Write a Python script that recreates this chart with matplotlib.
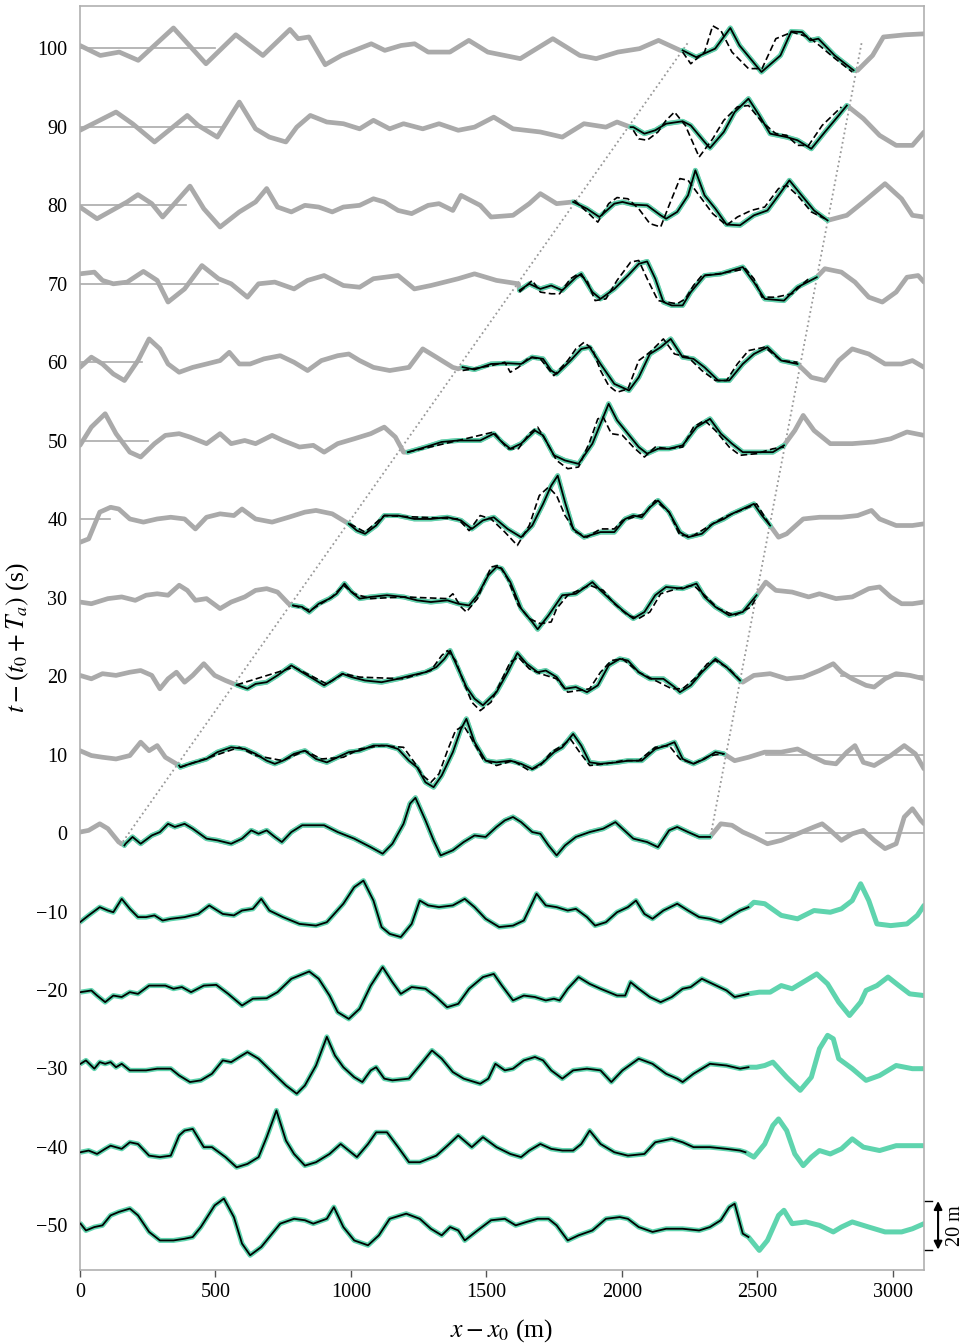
import numpy as np
import matplotlib
matplotlib.use("Agg")
import matplotlib.pyplot as plt

plt.rcParams['font.family'] = ['Liberation Serif', 'DejaVu Serif']
plt.rcParams['mathtext.fontset'] = 'stix'

SCALE = 0.31  # s of vertical offset per m of surface elevation
GRAY = '#aaaaaa'
TEAL = '#5fd4ae'

offsets = [100, 90, 80, 70, 60, 50, 40, 30, 20, 10, 0, -10, -20, -30, -40, -50]

# measured surface elevation (x in m, eta in m) for each time offset
m100 = [(0,1.2),(75,-2.9),(145,-1.5),(215,-4.9),(345,8.4),(465,-6.3),(575,5.6),(675,-2.9),(775,7.8),(805,4.0),(845,4.7),(905,-6.7),(965,-2.9),(1075,1.9),(1125,-0.8),(1185,1.2),(1235,1.9),(1285,-1.5),(1365,-1.5),(1435,3.3),(1505,-1.5),(1625,-4.2),(1745,4.0),(1845,-2.9),(1905,-4.2),(1985,-1.5),(2065,-0.1),(2135,3.3),(2215,-0.8),
        (2224,-0.8),(2274,-3.6),(2344,-0.1),(2400,8.4),(2434,1.2),(2515,-9.7),(2585,-2.9),(2625,7.0),(2665,6.7),(2695,3.3),(2725,4.0),(2785,-2.9),(2855,-9.0),
        (2870,-9.0),(2925,-2.9),(2965,4.7),(3045,5.6),(3115,6.0)]
m90 = [(0,-1.4),(133,6.1),(194,1.3),(275,-6.2),(335,-0.8),(396,4.7),(436,0.6),(507,-4.2),(588,10.2),(648,-0.8),(699,-4.2),(760,-6.2),(800,-0.1),(850,4.7),(911,2.0),(972,1.3),(1032,-0.8),(1083,2.7),(1143,-0.8),(1194,1.3),(1265,-0.8),(1325,1.3),(1396,-1.4),(1456,-0.1),(1527,4.0),(1598,-0.8),(1699,-2.1),(1780,-4.2),(1860,1.3),(1941,-0.1),(1982,2.0),(2032,-0.1),
       (2042,-0.1),(2083,-2.8),(2123,-1.4),(2163,1.3),(2224,2.3),(2254,0.6),(2305,-6.2),(2325,-8.7),(2376,-2.1),(2416,6.1),(2467,11.6),(2507,4.7),(2547,-2.8),(2608,-4.2),(2648,-5.5),(2699,-9.0),(2749,-2.1),(2800,4.7),(2830,8.8),
       (2891,3.4),(2951,-3.5),(3012,-7.6),(3072,-7.6),(3115,-2.1)]
m80 = [(0,-0.7),(63,-5.5),(174,1.4),(214,4.4),(265,0.7),(305,-4.8),(406,7.9),(457,-1.4),(517,-8.9),(588,-2.7),(648,1.4),(689,6.9),(729,-0.7),(780,-2.7),(830,0),(881,-0.7),(931,-2.7),(972,-0.7),(1032,0),(1083,2.7),(1123,1.4),(1174,-2.1),(1224,-3.4),(1285,0),(1325,0.7),(1376,-2.1),(1406,4.1),(1477,0),(1517,-4.8),(1598,-4.1),(1658,0.7),(1699,4.8),(1759,0.7),(1820,1.4),
       (1871,-1.4),(1917,-4.8),(1972,0.7),(2002,1.4),(2042,0.3),(2093,0),(2143,-4.1),(2163,-5.5),(2204,-2.7),(2244,4.1),(2271,14.4),(2305,4.1),(2345,-1.4),(2386,-7.9),(2436,-8.2),(2487,-4.1),(2537,-2.1),(2578,4.1),(2618,10.3),(2658,4.8),(2709,-2.1),(2759,-6.2),
       (2830,-4.1),(2891,1.4),(2971,8.9),(3032,2.7),(3072,-4.1),(3115,-4.8)]
m70 = [(0,4.1),(53,4.8),(83,1.4),(123,0),(174,0.7),(234,5.1),(285,1.4),(325,-7.5),(386,-2.1),(450,7.5),(511,2.1),(558,0),(618,-5.5),(659,0),(719,0.7),(790,-2.1),(840,1.4),(901,3.4),(972,-0.7),(1032,-1.4),(1083,2.1),(1174,3.4),(1234,-2.1),(1295,-0.7),(1396,2.1),(1456,4.1),(1537,1.4),(1618,0),
       (1622,-2.7),(1658,0),(1699,-2.1),(1739,-0.7),(1780,-2.7),(1830,2.7),(1850,4.1),(1891,-3.4),(1921,-6.2),(1972,-2.1),(2022,3.4),(2062,8.2),(2093,9.2),(2123,2.1),(2153,-7.5),(2184,-8.9),(2224,-8.9),(2254,-3.4),(2305,3.4),(2365,4.1),(2446,6.9),(2487,0.7),(2527,-6.2),(2598,-6.9),(2648,-1.4),(2719,2.7),
       (2749,6.2),(2810,4.8),(2860,0.7),(2911,-5.5),(2961,-7.5),(3012,-3.4),(3052,2.7),(3093,3.4),(3115,0.7)]
m60 = [(0,-2.1),(42,2.1),(83,-0.7),(123,-4.8),(164,-7.5),(214,0.7),(255,9.6),(295,5.5),(325,-0.7),(366,-4.1),(416,-2.1),(467,-0.7),(517,0.7),(551,4.1),(588,-0.7),(628,-0.7),(679,1.4),(739,2.7),(790,0),(840,-3.4),(891,0.7),(951,2.7),(992,3.4),(1032,0.7),(1083,-2.1),(1143,-3.4),(1214,-2.1),(1265,5.5),(1315,2.1),(1376,-2.1),(1396,-2.7),
       (1412,-2.0),(1456,-3.0),(1517,-0.7),(1578,-0.4),(1628,-0.7),(1669,2.1),(1709,1.4),(1739,-3.4),(1759,-4.8),(1810,0.7),(1850,5.5),(1881,6.2),(1921,-0.7),(1972,-8.9),(2026,-11.6),(2062,-6.2),(2103,3.4),(2143,6.2),(2180,9.6),(2224,2.1),(2264,1.4),(2305,-2.1),(2355,-7.5),(2396,-7.5),(2446,-0.7),(2487,3.4),(2537,6.2),(2588,0.7),(2648,-0.7),
       (2699,-6.2),(2749,-7.5),(2800,0.7),(2850,5.5),(2911,3.4),(2971,-0.7),(3032,-0.7),(3072,0.7),(3115,-2.1)]
m50 = [(0,-1.9),(42,5.6),(93,11.1),(133,2.9),(184,-4.7),(224,-6.7),(275,-1.2),(315,2.2),(366,2.9),(406,1.5),(467,-1.2),(517,2.9),(558,-1.2),(608,0.1),(648,-1.2),(709,2.2),(749,0.1),(810,-2.6),(861,-1.9),(901,-4.7),(951,-1.2),(1012,0.8),(1073,2.9),(1123,5.6),(1164,1.5),(1194,-4.7),
       (1210,-4.7),(1275,-2.6),(1335,-0.5),(1396,0.1),(1477,0.1),(1527,2.9),(1557,-0.5),(1588,-3.3),(1628,-1.2),(1679,4.2),(1709,2.2),(1749,-6.0),(1790,-8.1),(1840,-9.5),(1891,-1.2),(1921,7.0),(1951,15.2),(1982,8.4),(2022,2.9),(2062,-2.6),(2093,-5.3),(2133,-3.3),(2174,-3.3),(2224,-1.9),(2275,5.6),(2325,9.0),(2365,2.9),(2406,-1.2),(2446,-4.7),(2497,-4.7),(2557,-4.7),(2598,-1.9),
       (2638,4.2),(2669,10.4),(2709,4.2),(2769,-1.2),(2850,-1.2),(2931,-0.5),(2992,0.8),(3052,3.6),(3115,2.2)]
m40 = [(0,-9.5),(32,-8.1),(73,2.9),(113,4.9),(143,4.2),(184,0.1),(234,-1.2),(285,0.1),(335,0.8),(386,0.1),(426,-4.0),(467,0.8),(517,2.2),(568,1.5),(598,4.2),(648,0.1),(709,-1.2),(770,0.8),(830,2.9),(871,3.6),(931,2.2),(992,-1.9),
       (1022,-4.7),(1052,-6.0),(1093,-2.6),(1123,1.5),(1174,1.5),(1234,0.1),(1295,0.1),(1356,0.8),(1406,-0.5),(1446,-4.0),(1487,-0.5),(1527,0.8),(1578,-4.0),(1628,-7.4),(1669,-2.6),(1709,6.3),(1739,13.8),(1763,17.9),(1790,7.0),(1820,-4.0),(1860,-7.4),(1921,-5.3),(1972,-5.3),(2012,0.1),(2042,1.5),(2073,0.8),(2103,4.9),(2133,7.7),(2174,2.9),(2214,-5.3),(2244,-7.4),(2295,-6.0),(2335,-1.9),(2376,0.1),(2406,2.2),(2446,4.2),(2487,6.3),(2517,1.5),(2547,-2.6),
       (2578,-7.4),(2608,-6.0),(2669,0.1),(2729,0.8),(2810,0.8),(2870,1.5),(2921,3.6),(2951,0.1),(3012,-2.6),(3072,-2.6),(3115,-1.9)]
m30 = [(0,-1.8),(42,-2.5),(103,-0.4),(154,0.3),(204,-1.1),(244,1.0),(285,1.6),(325,1.0),(366,5.1),(396,3.0),(426,-1.1),(467,-0.4),(517,-4.5),(558,-1.8),(608,0.3),(648,3.0),(689,3.7),(729,2.3),(770,-2.5),
       (786,-3.2),(820,-3.8),(846,-5.9),(881,-2.5),(921,-0.4),(947,1.6),(976,5.8),(1002,2.3),(1032,-0.4),(1073,0.3),(1133,1.0),(1194,0.3),(1244,-1.1),(1295,-1.8),(1356,-1.1),(1396,-2.5),(1436,-3.2),(1467,1.0),(1507,9.2),(1537,12.6),(1557,11.9),(1588,6.4),(1628,-4.5),(1669,-10.0),(1689,-13.0),(1729,-7.3),(1780,1.0),(1830,1.6),(1891,6.4),(1921,3.0),(1961,-1.1),(2002,-5.2),(2042,-8.6),(2083,-5.9),(2123,1.0),(2163,4.4),(2224,3.7),(2275,5.8),(2305,0.3),(2345,-3.8),(2396,-7.3),(2446,-5.9),(2497,1.0),
       (2531,6.4),(2568,3.0),(2628,2.3),(2689,0.3),(2729,1.6),(2790,-0.4),(2850,0.3),(2911,3.7),(2951,4.4),(2992,0.3),(3032,-2.5),(3072,-2.5),(3115,-1.8)]
m20 = [(0,0.3),(42,-1.1),(83,1.0),(133,0.3),(184,1.6),(224,2.3),(265,0.3),(295,-5.2),(325,-1.1),(356,1.6),(386,-2.5),(416,0.3),(457,5.1),(497,0.3),(537,-1.8),(568,-3.2),
       (578,-3.6),(618,-5.2),(648,-3.2),(689,-2.5),(729,0.3),(780,4.4),(820,1.6),(861,-1.1),(901,-3.8),(931,-1.8),(968,1.0),(1002,-0.4),(1052,-1.8),(1113,-2.5),(1174,-1.1),(1224,0.3),(1275,1.6),(1315,3.7),(1345,7.1),(1366,10.5),(1396,3.0),(1426,-4.5),(1456,-9.3),(1487,-12.0),(1537,-6.6),(1578,1.6),(1614,9.5),(1648,5.1),(1689,1.6),(1719,2.3),(1759,-0.4),(1790,-5.2),(1830,-4.5),(1871,-6.6),(1911,-3.8),(1951,4.4),(1992,7.1),(2022,6.4),(2062,1.6),(2103,-1.1),(2153,-1.1),(2194,-4.5),(2214,-6.6),(2254,-3.8),(2295,1.6),(2345,7.1),(2386,3.7),(2436,-1.8),
       (2446,-2.5),(2487,0.3),(2547,1.0),(2608,-1.1),(2669,-0.4),(2729,2.3),(2780,5.1),(2810,1.6),(2850,-1.1),(2901,-3.8),(2931,-4.5),(2971,-1.1),(3012,1.0),(3063,0.3),(3115,-1.1)]
m10 = [(0,1.6),(42,-0.4),(83,-1.1),(133,-1.8),(184,-0.4),(224,5.1),(255,1.6),(285,3.7),(315,-1.1),(366,-4.5),
       (370,-5.2),(406,-3.8),(467,-1.8),(507,1.0),(558,3.0),(608,2.3),(648,0.3),(689,-2.5),(719,-3.8),(749,-2.5),(790,0.3),(830,1.6),(871,-1.8),(911,-3.2),(951,-1.1),(992,1.0),(1032,1.6),(1083,3.7),(1133,3.7),(1174,2.3),(1214,-2.5),(1244,-5.2),(1275,-11.4),(1305,-13.4),(1335,-8.6),(1376,1.0),(1406,10.5),(1426,14.7),(1456,5.1),(1497,-2.5),(1537,-3.2),(1588,-2.5),(1628,-3.8),(1669,-5.9),(1709,-3.2),(1749,1.0),(1780,3.0),(1820,8.5),(1850,3.7),(1881,-3.2),(1921,-3.8),(1982,-3.2),(2022,-2.5),(2073,-2.5),(2123,2.3),(2163,3.7),(2194,5.1),(2224,-1.8),(2264,-3.8),(2305,-1.8),(2345,1.0),(2376,0.3),
       (2416,-2.5),(2467,-1.1),(2527,1.0),(2588,1.0),(2648,2.3),(2709,-1.1),(2749,-3.2),(2790,-3.8),(2830,1.0),(2860,3.7),(2891,-3.2),(2931,-4.5),(2992,-0.4),(3042,3.7),(3083,0.3),(3115,-5.9)]
m0 = [(0,0.4),(32,1.1),(73,3.8),(103,1.8),(143,-3.7),(164,-5.1),
      (168,-4.4),(194,-1.6),(224,-4.4),(265,-1.0),(295,0.4),(325,3.8),(350,2.5),(386,3.8),(416,1.8),(467,-2.3),(507,-3.0),(558,-4.4),(598,-2.3),(632,1.1),(659,-0.3),(689,1.1),(719,-1.6),(745,-3.7),(780,0.4),(820,3.2),(850,3.2),(901,3.2),(951,0.4),(1012,-2.3),(1073,-5.8),(1117,-8.5),(1153,-4.4),(1194,3.8),(1218,12.1),(1238,14.5),(1275,5.2),(1305,-3.0),(1331,-9.2),(1376,-7.1),(1416,-3.7),(1456,-1.0),(1497,-1.6),(1537,2.5),(1568,5.2),(1598,6.6),(1628,4.5),(1669,0.4),(1699,-0.3),(1729,-5.1),(1759,-9.2),(1790,-5.1),(1830,-1.6),(1881,0.4),(1931,1.8),(1976,4.5),(2002,1.8),(2042,-2.3),(2093,-3.7),(2133,-5.8),(2174,1.1),(2204,2.5),(2244,0.4),(2285,-1.6),(2325,-1.6),
      (2365,3.8),(2406,3.2),(2446,0.4),(2487,-1.6),(2537,-4.4),(2588,-3.0),(2648,-0.3),(2709,2.5),(2739,3.8),(2769,1.1),(2810,-3.0),(2850,-0.3),(2891,1.1),(2931,-3.0),(2971,-6.4),(3012,-4.4),(3042,6.6),(3072,10.0),(3103,5.2),(3115,3.8)]
m_10 = [(0,-4.4),(32,-1.6),(73,1.8),(103,0.4),(123,-0.3),(154,5.2),(184,1.1),(214,-2.3),(244,-2.3),(275,-1.6),(305,-3.7),(335,-3.0),(386,-2.3),(436,-1.0),(477,2.5),(527,-1.0),(568,-1.6),(598,0.4),(638,1.1),(669,5.2),(699,0.4),(749,-2.3),(810,-5.1),(871,-5.8),(911,-4.4),(972,3.2),(1012,10.0),(1046,12.7),(1083,4.5),(1113,-6.4),(1143,-9.2),(1184,-10.5),(1224,-5.1),(1254,4.5),(1285,2.5),(1325,1.8),(1376,2.5),(1420,5.2),(1456,1.8),(1497,-3.0),(1547,-6.4),(1598,-5.8),(1638,-3.7),(1685,7.3),(1719,2.5),(1759,1.8),(1800,0.4),(1830,1.1),(1871,-2.3),(1901,-5.8),(1941,-4.4),(1982,-0.3),(2022,1.8),(2052,4.5),(2083,-1.0),(2113,-3.0),(2153,0.4),(2204,3.2),(2244,0.4),(2285,-2.3),(2325,-3.0),(2365,-4.4),(2406,-1.6),(2436,0.4),(2467,1.8),
        (2487,3.8),(2527,3.2),(2588,-1.6),(2648,-3.0),(2709,0.4),(2769,-0.3),(2810,1.1),(2850,4.5),(2881,11.4),(2911,4.5),(2941,-5.1),(2992,-5.8),(3052,-5.1),(3090,-1.6),(3115,2.5)]
m_20 = [(2,-0.9),(42,-0.2),(63,-2.3),(93,-5.0),(123,-2.3),(154,-2.9),(184,-0.9),(214,-1.6),(255,1.8),(285,1.8),(315,1.8),(345,0.5),(376,1.2),(410,-0.9),(457,1.8),(503,2.1),(547,-1.6),(598,-6.4),(638,-3.6),(689,-3.4),(729,-0.9),(780,4.6),(846,7.6),(881,4.6),(921,-2.3),(951,-9.1),(992,-11.9),(1032,-7.7),(1073,1.8),(1117,9.4),(1153,3.2),(1184,-1.6),(1224,1.2),(1275,0.5),(1315,-2.9),(1355,-7.1),(1396,-5.7),(1436,0.5),(1487,5.3),(1527,6.6),(1557,1.8),(1598,-4.3),(1638,-2.3),(1679,-2.9),(1719,-4.3),(1749,-3.6),(1770,-4.3),(1800,0.5),(1840,5.3),(1881,2.5),(1921,0.5),(1982,-2.3),(2012,-2.3),(2032,3.2),(2062,0.5),(2103,-2.9),(2143,-5.0),(2184,-2.9),(2224,0.5),(2254,1.2),(2295,4.6),(2335,2.5),(2386,-0.2),(2416,-2.9),(2467,-1.6),
        (2507,-0.9),(2547,-0.9),(2588,1.8),(2628,0.5),(2679,3.9),(2719,6.6),(2759,2.5),(2800,-5.0),(2840,-10.5),(2881,-5.0),(2901,-0.2),(2941,1.8),(2982,5.3),(3022,1.8),(3062,-1.6),(3115,-2.3)]
m_30 = [(2,1.9),(22,3.3),(53,-0.1),(73,2.6),(93,1.9),(113,2.6),(133,0.5),(154,1.9),(184,-0.8),(244,-0.8),(285,-0.1),(335,-0.1),(366,-2.9),(406,-5.6),(446,-4.9),(487,-2.2),(527,3.3),(558,2.6),(588,4.7),(618,6.7),(659,4.0),(709,-1.5),(760,-7.0),(800,-10.4),(830,-7.0),(871,1.2),(911,13.0),(941,5.3),(972,0.5),(1012,-3.6),(1042,-5.6),(1073,-0.8),(1093,0.5),(1123,-4.2),(1153,-4.9),(1214,-4.2),(1254,1.2),(1299,7.4),(1335,4.0),(1376,-1.5),(1416,-4.2),(1477,-6.3),(1507,-4.2),(1533,1.9),(1568,-0.8),(1598,-0.1),(1638,3.3),(1679,4.7),(1709,3.3),(1739,-0.8),(1780,-4.2),(1820,-0.8),(1871,-0.1),(1921,-0.8),(1961,-5.6),(2002,-0.8),(2062,4.0),(2113,1.9),(2163,-2.2),(2204,-4.2),(2224,-5.6),(2264,-2.2),(2325,1.9),(2386,1.2),(2436,-0.1),(2467,0.5),
        (2497,0.5),(2527,1.2),(2557,2.6),(2608,-3.6),(2658,-9.0),(2699,-3.6),(2729,8.1),(2759,13.6),(2780,12.2),(2800,4.0),(2850,-0.1),(2901,-4.9),(2951,-2.9),(3012,1.2),(3072,-0.1),(3115,-0.1)]
m_40 = [(2,-2.2),(32,-1.5),(63,-2.9),(93,-0.8),(113,0.5),(154,-0.8),(184,1.9),(214,1.2),(255,-3.6),(295,-4.2),(335,-3.6),(366,4.7),(386,6.7),(416,7.4),(457,-0.1),(487,-0.1),(537,-4.2),(578,-8.4),(618,-7.0),(659,-4.2),(689,4.0),(725,15.0),(760,2.6),(790,-2.9),(830,-7.7),(871,-6.3),(921,-2.9),(962,1.2),(992,-1.5),(1022,-4.2),(1063,1.2),(1093,6.0),(1133,6.0),(1174,-0.1),(1214,-6.3),(1254,-6.3),(1315,-3.6),(1356,0.5),(1396,4.7),(1446,-0.1),(1487,4.0),(1537,-0.1),(1588,-2.9),(1628,-4.2),(1658,-1.5),(1699,1.2),(1739,-0.8),(1780,-1.5),(1820,-1.5),(1850,1.2),(1881,6.7),(1921,1.2),(1972,-2.2),(2022,-3.6),(2083,-2.9),(2123,1.9),(2184,3.3),(2224,1.9),(2264,-0.1),(2325,-0.1),(2386,-0.8),(2436,-1.5),(2456,-2.2),
        (2487,-4.2),(2527,1.2),(2557,8.8),(2578,11.5),(2608,6.7),(2638,-2.9),(2669,-7.7),(2699,-4.2),(2729,-1.5),(2769,-2.9),(2810,-0.8),(2850,3.3),(2891,-0.1),(2951,-1.5),(3012,0.5),(3072,0.5),(3115,0.5)]
m_50 = [(2,0.7),(22,-2.1),(53,-0.7),(83,0),(113,4.1),(143,5.5),(184,6.9),(214,4.1),(255,-2.7),(295,-6.2),(345,-6.2),(386,-5.5),(416,-4.8),(446,-0.7),(497,8.2),(531,11.0),(568,3.4),(598,-7.5),(628,-12.3),(669,-8.9),(709,-3.4),(739,0.7),(790,2.7),(830,2.1),(861,0.7),(911,2.7),(937,7.5),(972,-0.7),(1012,-6.2),(1063,-8.2),(1103,-4.1),(1143,2.7),(1204,4.8),(1254,2.7),(1295,-1.4),(1335,-4.1),(1366,-0.7),(1396,-2.1),(1420,-6.2),(1467,-2.1),(1517,2.1),(1568,2.7),(1608,0),(1648,1.4),(1689,2.7),(1729,2.7),(1759,0),(1800,-6.2),(1840,-4.1),(1891,-2.1),(1941,2.7),(1992,3.4),(2022,2.7),(2062,-0.7),(2113,-2.7),(2163,-1.4),(2224,-1.4),(2285,-2.1),(2325,-0.7),(2365,2.1),(2396,7.5),(2416,8.9),(2446,-3.4),(2467,-4.8),
        (2507,-10.3),(2537,-6.2),(2578,4.1),(2598,6.2),(2628,0.7),(2679,1.4),(2729,0),(2780,-2.7),(2810,-0.7),(2850,1.4),(2911,-0.7),(2971,-2.7),(3032,-2.7),(3072,-1.4),(3115,0.7)]

# dashed prediction (only distinct from the solid one for the upper traces)
l100 = [(2224,-1.5),(2254,-6.3),(2305,-1.5),(2335,9.3),(2365,7.4),(2406,-1.5),(2467,-8.3),(2517,-8.3),(2568,4.0),(2628,6.7),(2689,4.7),(2729,1.2),(2780,-3.6),(2850,-9.7)]
l90 = [(2042,-1.4),(2062,-4.9),(2093,-5.5),(2133,-2.1),(2163,2.7),(2194,6.1),(2234,0.6),(2285,-12.4),(2335,-4.9),(2376,2.7),(2426,8.2),(2467,8.8),(2517,2.0),(2568,-2.8),(2608,-3.5),(2648,-7.6),(2689,-7.6),(2739,0.6),(2810,8.2)]
l80 = [(1824,2.1),(1871,-2.7),(1911,-6.9),(1951,0.7),(1982,3.2),(2022,2.7),(2062,-1.4),(2103,-7.5),(2143,-8.9),(2174,0),(2214,11.0),(2244,10.3),(2285,4.1),(2335,-3.4),(2386,-8.2),(2426,-4.8),(2477,-2.1),(2527,-0.7),(2578,6.9),(2608,8.2),(2648,4.1),(2699,-2.7),(2749,-5.5)]
l70 = [(1622,-3.4),(1669,1.4),(1699,-3.4),(1739,-4.1),(1770,-4.1),(1810,2.1),(1840,4.1),(1871,1.4),(1901,-6.9),(1941,-6.2),(1982,1.4),(2032,8.9),(2062,9.6),(2093,2.1),(2133,-6.9),(2163,-7.5),(2204,-8.2),(2234,-6.2),(2264,-0.7),(2295,3.4),(2355,4.1),(2426,5.5),(2456,6.2),(2487,2.1),(2517,-5.5),(2567,-5.5),(2628,-4.1),(2689,2.1)]
l60 = [(1412,-3.4),(1517,-1.4),(1568,0),(1588,-4.1),(1618,-2.1),(1658,2.1),(1699,1.4),(1749,-5.5),(1800,0.7),(1830,5.5),(1860,8.2),(1891,5.5),(1921,-3.4),(1951,-9.6),(1982,-12.3),(2022,-11.0),(2062,0.7),(2103,4.1),(2153,9.6),(2194,3.4),(2244,2.1),(2295,-3.4),(2345,-7.5),(2386,-7.5),(2426,-0.7),(2467,4.8),(2527,6.2),(2588,0.7),(2648,0)]
l50 = [(1210,-4.7),(1396,0.1),(1527,3.6),(1578,-3.3),(1618,-3.3),(1658,2.9),(1689,5.6),(1719,0.1),(1759,-8.1),(1800,-11.5),(1840,-10.8),(1881,-0.5),(1911,9.0),(1931,9.7),(1961,2.9),(2002,2.2),(2042,-2.6),(2083,-6.7),(2123,-2.6),(2174,-3.3),(2224,-2.6),(2264,5.6),(2305,8.4),(2345,4.2),(2396,-2.6),(2436,-6.0),(2497,-5.3),(2557,-3.3),(2598,-2.6)]
l40 = [(996,-1.9),(1052,-5.3),(1123,1.5),(1396,0.1),(1436,-4.7),(1477,1.5),(1517,0.1),(1568,-5.3),(1614,-10.8),(1658,-2.6),(1695,9.7),(1729,13.2),(1759,9.7),(1790,1.5),(1830,-5.3),(1871,-7.4),(1921,-4.0),(1972,-4.0),(2002,-0.5),(2042,0.8),(2083,2.2),(2123,7.7),(2174,2.9),(2214,-6.7),(2264,-6.7),(2325,-2.6),(2376,0.8),(2467,4.9),(2497,6.3),(2547,-2.6)]
l30 = [(786,-3.2),(850,-5.2),(931,0.3),(972,5.1),(1012,1.6),(1073,-0.4),(1194,0.3),(1356,-0.4),(1376,1.6),(1406,-3.8),(1426,-5.9),(1467,-0.4),(1517,12.6),(1547,13.3),(1578,7.8),(1618,-3.2),(1658,-8.6),(1699,-10.7),(1739,-10.0),(1759,-4.5),(1800,1.0),(1881,5.1),(1931,3.0),(1972,-2.5),(2022,-7.3),(2062,-8.6),(2103,-5.9),(2143,1.6),(2204,3.7),(2264,5.1),(2305,1.0),(2355,-4.5),(2416,-7.3),(2477,-3.8),(2497,0.3)]
l20 = [(578,-3.6),(790,3.7),(911,-3.2),(972,1.0),(1032,-0.4),(1194,-1.1),(1295,2.3),(1335,8.5),(1356,10.5),(1386,6.4),(1416,-2.5),(1446,-10.7),(1477,-14.2),(1517,-10.7),(1558,-1.1),(1588,5.8),(1618,7.8),(1658,3.0),(1699,1.0),(1759,-1.1),(1800,-6.6),(1840,-5.9),(1881,-5.2),(1921,1.6),(1961,6.4),(2002,7.1),(2062,1.6),(2123,-1.8),(2184,-5.2),(2224,-5.2),(2275,-0.4),(2315,5.1),(2345,6.4),(2396,3.0),(2436,-1.8)]
l10 = [(370,-5.2),(588,3.0),(648,-0.4),(749,-2.5),(830,1.6),(891,-1.8),(972,-1.1),(1032,2.3),(1113,3.7),(1194,3.0),(1234,-3.2),(1265,-8.6),(1295,-11.4),(1325,-7.9),(1356,1.6),(1386,9.9),(1416,11.9),(1446,6.4),(1487,-1.8),(1537,-4.5),(1598,-2.5),(1658,-6.6),(1699,-4.5),(1739,1.0),(1780,3.7),(1810,6.4),(1840,1.6),(1881,-4.5),(1941,-3.8),(2002,-2.5),(2062,-2.5),(2123,3.0),(2174,3.7),(2214,-1.8),(2264,-3.8),(2325,-0.4),(2376,0.3)]

measured = [m100, m90, m80, m70, m60, m50, m40, m30, m20, m10, m0, m_10, m_20, m_30, m_40, m_50]
dashed = [l100, l90, l80, l70, l60, l50, l40, l30, l20, l10, None, None, None, None, None, None]

# prediction window per trace (m)
win_lo = [2220, 2030, 1820, 1620, 1405, 1200, 992, 775, 570, 366, 160, 0, 0, 0, 0, 0]
win_hi = [2860, 2835, 2765, 2720, 2655, 2605, 2550, 2500, 2440, 2380, 2330, 3115, 3115, 3115, 3115, 3115]
pred_hi = [2860, 2835, 2765, 2720, 2655, 2605, 2550, 2500, 2440, 2380, 2330, 2470, 2470, 2470, 2470, 2470]

# flat segments of the thin reference line (eta = 0)
thin_spans = {100: (0, 500), 90: (0, 520), 80: (0, 390), 70: (0, 510), 60: (0, 230),
              50: (0, 250), 40: (0, 110), 20: (2810, 3115), 10: (2530, 3115), 0: (2530, 3115)}

# dotted edges of the prediction region (x in m, t in s)
edge_left = ([148, 2245], [-1.6, 100.8])
edge_right = ([2328, 2885], [-0.2, 100.8])

fig = plt.figure(figsize=(9.73, 13.44), dpi=100)
ax = fig.add_axes([0.0822, 0.055, 0.8675, 0.9405])

for i, t in enumerate(offsets):
    x, e = np.array(measured[i], dtype=float).T
    y = t + SCALE * e
    if t >= 0:
        ax.plot(x, y, color=GRAY, lw=3.4, solid_capstyle='round', solid_joinstyle='round', zorder=1)
    if t in thin_spans:
        a, b = thin_spans[t]
        ax.plot([a, b], [t, t], color=GRAY, lw=1.2, zorder=1)
    inside = (x >= win_lo[i]) & (x <= win_hi[i])
    ax.plot(x[inside], y[inside], color=TEAL, lw=3.6, solid_capstyle='round', solid_joinstyle='round', zorder=2)
    if dashed[i] is not None:
        lx, le = np.array(dashed[i], dtype=float).T
        ax.plot(lx, t + SCALE * le, color='k', lw=1.2, ls=(0, (4, 2)), zorder=3)
    sol = (x >= win_lo[i]) & (x <= pred_hi[i])
    ax.plot(x[sol], y[sol], color='k', lw=1.3, solid_joinstyle='round', zorder=4)

ax.plot(*edge_left, color='#999999', lw=1.3, ls=':', zorder=0)
ax.plot(*edge_right, color='#999999', lw=1.3, ls=':', zorder=0)

ax.set_xlim(0, 3115)
ax.set_ylim(-55.7, 105.4)
ax.set_xticks(np.arange(0, 3001, 500))
ax.set_yticks(offsets)
ax.set_yticklabels([str(v).replace('-', '\u2212') for v in offsets])
ax.tick_params(axis='y', length=0, pad=9, labelsize=14.5)
ax.tick_params(axis='x', length=5, width=1, color='#555555', pad=4, labelsize=14.5)
for s in ax.spines.values():
    s.set_color('#b0b0b0')
    s.set_linewidth(1.2)

ax.set_xlabel('$x - x_0$ (m)', fontsize=18.5)
ax.set_ylabel('$t - (t_0 + T_a)$ (s)', fontsize=18.5)
ax.xaxis.set_label_coords(0.5, -0.037)
ax.yaxis.set_label_coords(-0.058, 0.5)

# 20 m scale bar on the right of the lowest trace
yt = ax.get_yaxis_transform()
bar_lo, bar_hi = -50 - 10 * SCALE, -50 + 10 * SCALE
ax.annotate('', xy=(1.0166, bar_lo), xytext=(1.0166, bar_hi), xycoords=yt, textcoords=yt,
            arrowprops=dict(arrowstyle='<|-|>', color='k', lw=1.5, shrinkA=0, shrinkB=0,
                            mutation_scale=12))
for yy in (bar_lo, bar_hi):
    ax.plot([1.0, 1.009], [yy, yy], color='k', lw=1, transform=yt, clip_on=False)
ax.text(1.037, -50, '20 m', transform=yt, rotation=90, va='center', ha='center', fontsize=14.5)

fig.savefig('out.png', dpi=100)
